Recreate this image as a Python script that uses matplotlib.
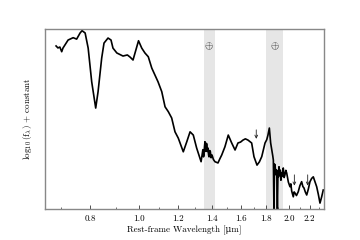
import matplotlib
matplotlib.use('Agg')
import matplotlib.pyplot as plt
from matplotlib.ticker import FixedLocator, NullFormatter

plt.rcParams['font.family'] = ['cmr10', 'DejaVu Serif']
plt.rcParams['mathtext.fontset'] = 'cm'
plt.rcParams['axes.formatter.use_mathtext'] = True

# spectrum (rest-frame micron, scaled log flux)
wave = [0.684, 0.690, 0.696, 0.702, 0.706, 0.723, 0.740, 0.752, 0.764, 0.771,
        0.782, 0.793, 0.806, 0.821, 0.830, 0.844, 0.853, 0.869, 0.881, 0.889,
        0.905, 0.931, 0.950, 0.962, 0.975, 0.984, 1.000, 1.015, 1.030, 1.046,
        1.063, 1.079, 1.094, 1.113, 1.130, 1.147, 1.165, 1.183, 1.201, 1.229,
        1.249, 1.268, 1.287, 1.307, 1.334, 1.340, 1.345, 1.349, 1.352, 1.355,
        1.358, 1.361, 1.364, 1.367, 1.370, 1.374, 1.377, 1.381, 1.384, 1.388,
        1.392, 1.397, 1.403, 1.412, 1.422, 1.442, 1.455, 1.467, 1.489, 1.512,
        1.536, 1.560, 1.581, 1.600, 1.618, 1.636, 1.656, 1.684, 1.702, 1.726,
        1.745, 1.764, 1.791, 1.805, 1.815, 1.827, 1.838, 1.845, 1.850, 1.856,
        1.861, 1.866, 1.871, 1.875, 1.880, 1.884, 1.890, 1.896, 1.901, 1.906,
        1.910, 1.915, 1.919, 1.923, 1.927, 1.931, 1.934, 1.941, 1.948, 1.956,
        1.963, 1.971, 1.979, 1.994, 2.009, 2.017, 2.025, 2.032, 2.040, 2.048,
        2.056, 2.070, 2.087, 2.103, 2.120, 2.132, 2.143, 2.156, 2.170, 2.186,
        2.203, 2.220, 2.237, 2.255, 2.272, 2.290, 2.307, 2.325, 2.342]
flux = [0.906, 0.895, 0.900, 0.874, 0.894, 0.939, 0.952, 0.944, 0.978, 0.991,
        0.978, 0.894, 0.707, 0.561, 0.652, 0.839, 0.922, 0.950, 0.939, 0.894,
        0.867, 0.850, 0.856, 0.844, 0.828, 0.867, 0.935, 0.894, 0.867, 0.846,
        0.783, 0.744, 0.707, 0.652, 0.568, 0.541, 0.506, 0.429, 0.394, 0.318,
        0.374, 0.429, 0.411, 0.339, 0.263, 0.300, 0.330, 0.290, 0.300, 0.345,
        0.374, 0.330, 0.320, 0.365, 0.360, 0.320, 0.339, 0.300, 0.290, 0.325,
        0.320, 0.285, 0.300, 0.275, 0.263, 0.256, 0.280, 0.300, 0.346, 0.411,
        0.367, 0.328, 0.367, 0.372, 0.383, 0.390, 0.383, 0.367, 0.291, 0.244,
        0.262, 0.291, 0.367, 0.385, 0.410, 0.450, 0.367, 0.340, 0.320, 0.295,
        0.272, 0.000, 0.250, 0.244, 0.215, 0.190, 0.217, 0.000, 0.206, 0.180,
        0.235, 0.200, 0.217, 0.185, 0.160, 0.200, 0.179, 0.210, 0.228, 0.175,
        0.190, 0.215, 0.200, 0.150, 0.124, 0.140, 0.100, 0.085, 0.068, 0.095,
        0.089, 0.075, 0.096, 0.130, 0.152, 0.125, 0.117, 0.095, 0.078, 0.110,
        0.152, 0.170, 0.179, 0.150, 0.124, 0.080, 0.033, 0.068, 0.106]

bands = [(1.35, 1.42), (1.80, 1.95)]
arrow_wave = [1.72, 2.05, 2.18]
arrow_top = [0.44, 0.19, 0.19]
arrow_tip = [0.39, 0.13, 0.13]

major = [0.8, 1.0, 1.2, 1.4, 1.6, 1.8, 2.0, 2.2]
minor = [0.7, 0.9, 1.1, 1.3, 1.5, 1.7, 1.9, 2.1, 2.3]

fig = plt.figure(figsize=(3.6, 2.4), dpi=100)
ax = fig.add_axes([0.125, 0.129, 0.775, 0.75])

for lo, hi in bands:
    ax.axvspan(lo, hi, color='#e6e6e6', lw=0, zorder=0)
    ax.text((lo * hi) ** 0.5, 0.905, r'$\oplus$', ha='center', va='center', fontsize=7.5)

ax.plot(wave, flux, color='black', lw=1.2, zorder=2)

for w, t, b in zip(arrow_wave, arrow_top, arrow_tip):
    ax.annotate('', xy=(w, b), xytext=(w, t),
                arrowprops=dict(arrowstyle='->', lw=0.6, color='#222222',
                                shrinkA=0, shrinkB=0, mutation_scale=5))

ax.set_xscale('log')
ax.set_xlim(0.65, 2.35)
ax.set_ylim(0, 1)
ax.xaxis.set_major_locator(FixedLocator(major))
ax.xaxis.set_minor_locator(FixedLocator(minor))
ax.set_xticklabels(['%.1f' % v for v in major])
ax.xaxis.set_minor_formatter(NullFormatter())
ax.set_yticks([])
ax.tick_params(axis='x', which='major', direction='in', length=3, width=0.6,
               labelsize=6.5, color='#333333', pad=4)
ax.tick_params(axis='x', which='minor', direction='in', length=1.8, width=0.5,
               color='#333333')
for s in ax.spines.values():
    s.set_color('#888888')
    s.set_linewidth(1.0)

ax.set_xlabel('Rest-frame Wavelength [μm]', fontsize=6.5, labelpad=2)
ax.set_ylabel(r'$\log_{10}$(f$_\lambda$) + constant', fontsize=6.5, labelpad=8)

fig.savefig('out.png', dpi=100)
